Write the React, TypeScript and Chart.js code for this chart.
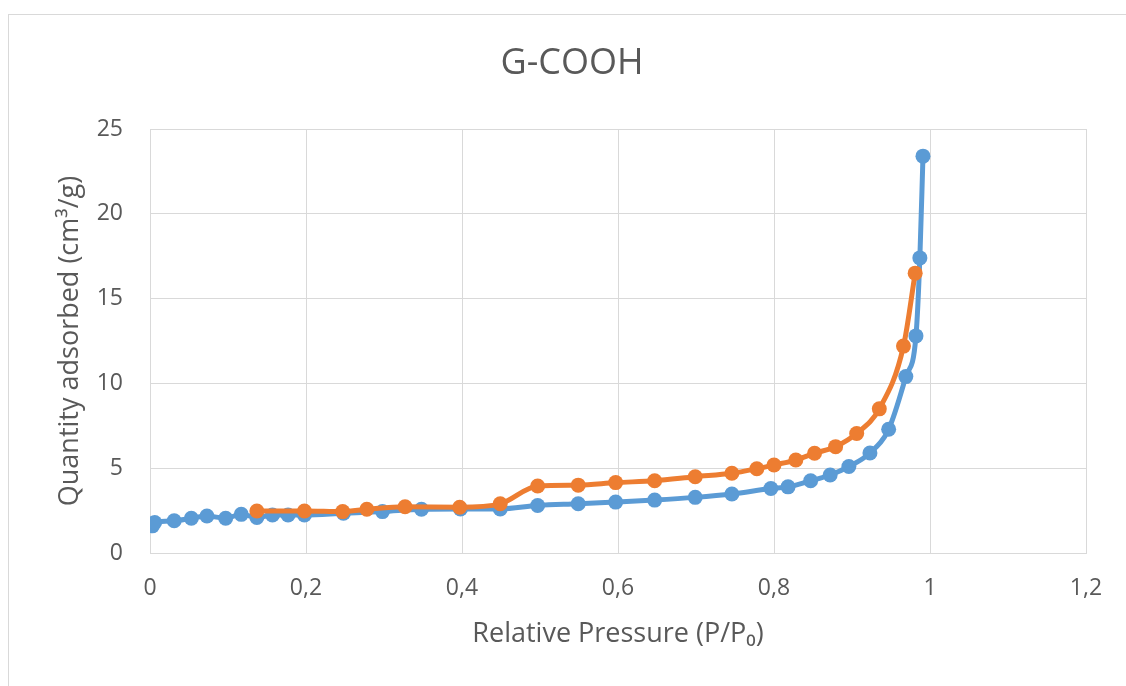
import React, { useEffect, useRef } from "react";
import { Chart, registerables } from "chart.js";

Chart.register(...registerables);

const chartTitle = "G-COOH";
const xAxisTitle = "Relative Pressure (P/P\u2080)";
const yAxisTitle = "Quantity adsorbed (cm\u00B3/g)";

const xTickValues = [0, 0.2, 0.4, 0.6, 0.8, 1, 1.2];
const xTickLabels = ["0", "0,2", "0,4", "0,6", "0,8", "1", "1,2"];
const yTickValues = [0, 5, 10, 15, 20, 25];

const adsorptionX = [0.003, 0.006, 0.031, 0.053, 0.073, 0.097, 0.117, 0.137, 0.157, 0.177, 0.198, 0.248, 0.298, 0.348, 0.398, 0.449, 0.497, 0.549, 0.597, 0.647, 0.699, 0.746, 0.796, 0.818, 0.847, 0.872, 0.896, 0.923, 0.947, 0.969, 0.982, 0.987, 0.991];
const adsorptionY = [1.6, 1.8, 1.9, 2.05, 2.18, 2.05, 2.28, 2.1, 2.24, 2.24, 2.24, 2.34, 2.44, 2.58, 2.6, 2.6, 2.8, 2.9, 3.0, 3.12, 3.28, 3.48, 3.8, 3.9, 4.26, 4.6, 5.1, 5.9, 7.3, 10.4, 12.8, 17.4, 23.4];

const desorptionX = [0.137, 0.198, 0.247, 0.278, 0.327, 0.397, 0.449, 0.497, 0.549, 0.597, 0.647, 0.699, 0.746, 0.778, 0.8, 0.828, 0.852, 0.879, 0.906, 0.935, 0.966, 0.981];
const desorptionY = [2.48, 2.48, 2.44, 2.58, 2.73, 2.7, 2.9, 3.95, 4.0, 4.15, 4.26, 4.5, 4.7, 4.97, 5.19, 5.48, 5.88, 6.27, 7.05, 8.5, 12.2, 16.5];

const FONT = "'Open Sans', 'Noto Sans', sans-serif";
const TEXT = "#595959";
const GRID = "#d9d9d9";

const decorPlugin = {
  id: "decor",
  beforeDraw(chart: any) {
    const ctx = chart.ctx;
    ctx.save();
    ctx.fillStyle = "#ffffff";
    ctx.fillRect(0, 0, chart.width, chart.height);
    ctx.strokeStyle = GRID;
    ctx.lineWidth = 1;
    ctx.strokeRect(8.5, 14.5, 1300, 1000);
    ctx.restore();
  },
  afterDraw(chart: any) {
    const ctx = chart.ctx;
    ctx.save();
    ctx.fillStyle = TEXT;
    ctx.font = `36px ${FONT}`;
    ctx.textAlign = "center";
    ctx.textBaseline = "middle";
    ctx.fillText(chartTitle, 572, 64);
    ctx.restore();
  },
};

export default function App() {
  const ref = useRef<HTMLCanvasElement | null>(null);

  useEffect(() => {
    if (!ref.current) return;
    const chart = new Chart(ref.current, {
      type: "scatter",
      data: {
        datasets: [
          {
            label: "Desorption",
            data: desorptionX.map((x, i) => ({ x, y: desorptionY[i] })),
            showLine: true,
            borderColor: "#ed7d31",
            backgroundColor: "#ed7d31",
            borderWidth: 5,
            pointRadius: 7.5,
            pointHoverRadius: 7.5,
            pointBorderWidth: 0,
            cubicInterpolationMode: "monotone",
            order: 0,
          },
          {
            label: "Adsorption",
            data: adsorptionX.map((x, i) => ({ x, y: adsorptionY[i] })),
            showLine: true,
            borderColor: "#5b9bd5",
            backgroundColor: "#5b9bd5",
            borderWidth: 5,
            pointRadius: 7.5,
            pointHoverRadius: 7.5,
            pointBorderWidth: 0,
            cubicInterpolationMode: "monotone",
            order: 1,
          },
        ],
      },
      options: {
        responsive: false,
        animation: false,
        layout: { padding: { top: 129, left: 0, right: 40, bottom: 0 } },
        plugins: {
          legend: { display: false },
          title: { display: false },
          tooltip: { enabled: false },
        },
        scales: {
          x: {
            type: "linear",
            min: 0,
            max: 1.2,
            afterFit: (s: any) => {
              s.height = 133;
            },
            afterBuildTicks: (s: any) => {
              s.ticks = xTickValues.map((v) => ({ value: v }));
            },
            ticks: {
              color: TEXT,
              font: { family: FONT, size: 23 },
              padding: 22,
              maxRotation: 0,
              callback: (v: any) => {
                const i = xTickValues.findIndex((t) => Math.abs(t - Number(v)) < 1e-6);
                return i >= 0 ? xTickLabels[i] : "";
              },
            },
            grid: { color: GRID, lineWidth: 1, drawTicks: false },
            border: { color: GRID },
            title: {
              display: true,
              text: xAxisTitle,
              color: TEXT,
              font: { family: FONT, size: 27 },
              padding: { top: 0, bottom: 35 },
            },
          },
          y: {
            type: "linear",
            min: 0,
            max: 25,
            afterFit: (s: any) => {
              s.width = 150;
            },
            afterBuildTicks: (s: any) => {
              s.ticks = yTickValues.map((v) => ({ value: v }));
            },
            ticks: {
              color: TEXT,
              font: { family: FONT, size: 23 },
              padding: 27,
            },
            grid: { color: GRID, lineWidth: 1, drawTicks: false },
            border: { display: false },
            title: {
              display: true,
              text: yAxisTitle,
              color: TEXT,
              font: { family: FONT, size: 27 },
              padding: { top: 54, bottom: 0 },
            },
          },
        },
      },
      plugins: [decorPlugin],
    } as any);
    return () => chart.destroy();
  }, []);

  return (
    <div style={{ position: "absolute", left: 0, top: 0, width: 1126, height: 686, overflow: "hidden" }}>
      <canvas ref={ref} width={1126} height={686} style={{ width: 1126, height: 686, display: "block" }} />
    </div>
  );
}
